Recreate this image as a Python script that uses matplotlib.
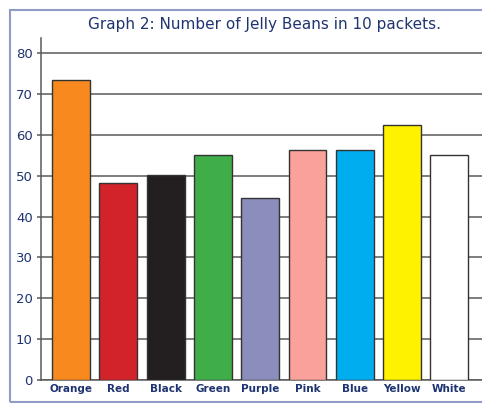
import matplotlib.pyplot as plt
from matplotlib.patches import Rectangle

colours = ["Orange", "Red", "Black", "Green", "Purple", "Pink", "Blue", "Yellow", "White"]
counts = [73.4, 48.2, 50.2, 55.0, 44.6, 56.3, 56.2, 62.3, 55.0]
fills = ["#f7891f", "#d2232a", "#231f20", "#3fae49", "#8b8dbd",
         "#f9a19a", "#00adee", "#fff200", "#ffffff"]
yticks = [0, 10, 20, 30, 40, 50, 60, 70, 80]

navy = "#1f3470"

fig = plt.figure(figsize=(4.82, 4.03), dpi=100)
ax = fig.add_axes([41/482, 1 - 380/403, 1 - 41/482, (380 - 38)/403])

x = range(len(colours))
ax.bar(x, counts, width=0.8, color=fills, edgecolor="#333333", linewidth=1, zorder=3)

ax.set_xlim(-0.634, 8.69)
ax.set_ylim(0, 83.7)
ax.set_yticks(yticks)
ax.set_xticks(list(x))
ax.set_xticklabels(colours, fontsize=7.5, fontweight="bold", color=navy)
ax.tick_params(axis="x", length=0, pad=3)
ax.tick_params(axis="y", length=3, width=1.1, color="#5a5a5a", labelsize=9.5,
               labelcolor=navy, pad=3)
ax.yaxis.grid(True, color="#5a5a5a", linewidth=1.1, zorder=0)
ax.set_axisbelow(True)
for side in ["top", "right"]:
    ax.spines[side].set_visible(False)
for side in ["left", "bottom"]:
    ax.spines[side].set_color("#5a5a5a")
    ax.spines[side].set_linewidth(1.1)

fig.text(264/482, 1 - 25/403, "Graph 2: Number of Jelly Beans in 10 packets.",
         ha="center", va="center", fontsize=11, color=navy)

fig.patches.append(Rectangle((10/482, 1 - 402/403), 1.0, (402 - 10)/403,
                             transform=fig.transFigure, fill=False,
                             edgecolor="#8d9dc8", linewidth=1.5))

fig.savefig("out.png", dpi=100)
